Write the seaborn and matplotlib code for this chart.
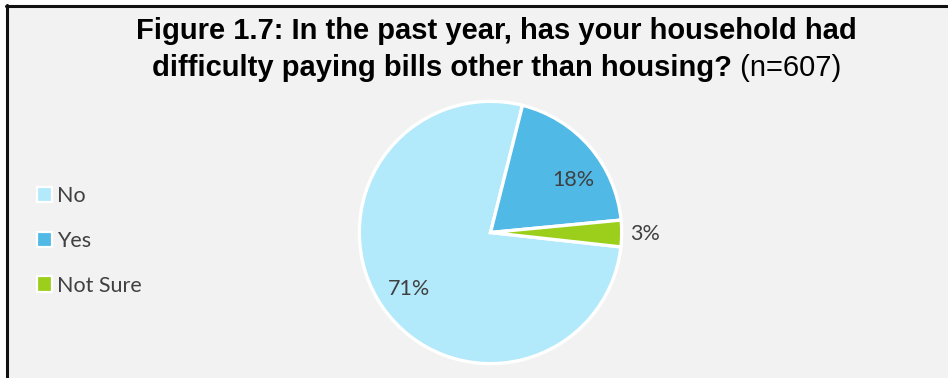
import matplotlib
matplotlib.use("Agg")
import matplotlib.pyplot as plt
from matplotlib.patches import Patch, Rectangle
from matplotlib.lines import Line2D
import numpy as np
import seaborn as sns

# Survey responses (share of respondents, %)
categories = ["No", "Yes", "Not Sure"]
values = [71, 18, 3]
label_texts = ["71%", "18%", "3%"]
title_bold_1 = "Figure 1.7: In the past year, has your household had"
title_bold_2 = "difficulty paying bills other than housing?"
title_note = " (n=607)"

sns.set_theme(style="white")
palette = sns.color_palette(["#B3EAFB", "#50B9E6", "#9BCF1B"])
plt.rcParams["font.family"] = ["Lato", "DejaVu Sans"]

W, H = 948, 378
fig = plt.figure(figsize=(W / 100, H / 100), dpi=100, facecolor="white")

def fx(px):
    return px / W

def fy(py):
    return 1 - py / H

# chart area background with dark frame on top and left
bg = fig.add_axes([0, 0, 1, 1], zorder=0)
bg.set_xlim(0, W)
bg.set_ylim(H, 0)
bg.axis("off")
bg.add_patch(Rectangle((8, 6), W, H, facecolor="#F2F2F2", edgecolor="none"))
bg.add_line(Line2D([6, W], [6, 6], color="#111111", lw=2.2))
bg.add_line(Line2D([7.5, 7.5], [5, H], color="#111111", lw=2.2))

# pie
cx, cy, R = 490.5, 232.5, 132.5
ax = fig.add_axes([fx(cx - R), fy(cy + R), 2 * R / W, 2 * R / H], zorder=2)
wedges, _ = ax.pie(
    values,
    colors=palette,
    startangle=-6.3,
    counterclock=False,
    radius=0.99,
    wedgeprops=dict(edgecolor="white", linewidth=2.4),
)
ax.set_xlim(-1, 1)
ax.set_ylim(-1, 1)
ax.set_aspect("equal")
ax.axis("off")
for w in wedges:
    w.set_clip_on(False)

label_dist = [0.75, 0.74, 1.17]
label_shift = [0.0, -8.0, 0.0]  # degrees, nudges the label along the wedge
for w, txt, d, s in zip(wedges, label_texts, label_dist, label_shift):
    mid = np.deg2rad((w.theta1 + w.theta2) / 2 + s)
    ax.text(d * np.cos(mid), d * np.sin(mid), txt, ha="center", va="center",
            fontsize=15.5, color="#404040", clip_on=False)

# legend
handles = [Patch(facecolor=c, edgecolor="white", linewidth=1.6) for c in palette]
leg = fig.legend(
    handles, categories,
    loc="upper left", bbox_to_anchor=(fx(28), fy(177)),
    frameon=False, fontsize=15.5, labelcolor="#404040",
    handlelength=0.7, handleheight=0.7, handletextpad=0.25,
    labelspacing=1.16, borderaxespad=0,
)

# title: two bold lines, the sample size in regular weight
tfont = dict(fontsize=21, family="Liberation Sans", color="#000000")
fig.text(fx(496.5), fy(31), title_bold_1, ha="center", va="center",
         fontweight="bold", **tfont)
fig.canvas.draw()
r = fig.canvas.get_renderer()
t2 = fig.text(0, fy(68), title_bold_2, ha="left", va="center",
              fontweight="bold", **tfont)
t3 = fig.text(0, fy(68), title_note, ha="left", va="center", **tfont)
w2 = t2.get_window_extent(r).width
w3 = t3.get_window_extent(r).width
x0 = 496.5 - (w2 + w3) / 2
t2.set_x(fx(x0))
t3.set_x(fx(x0 + w2))

fig.savefig("out.png", dpi=100, facecolor="white")
